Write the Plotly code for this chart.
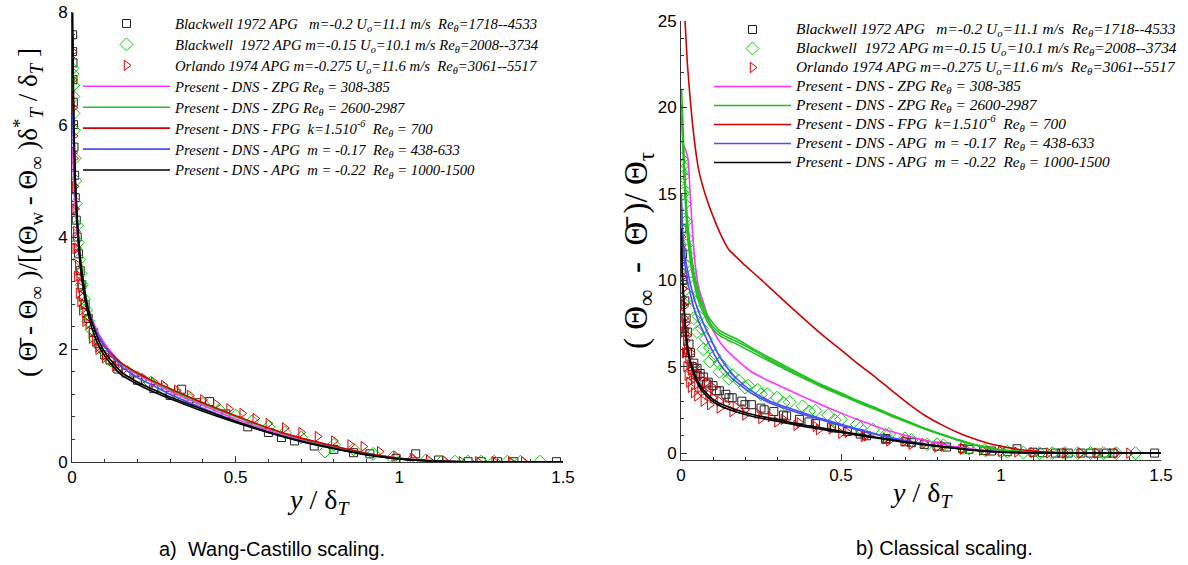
import plotly.graph_objects as go

W, H = 1188, 565

# ---------------- legend names ----------------
names = [
    "Blackwell 1972 APG\u00a0\u00a0\u00a0m=-0.2 U<sub>o</sub>=11.1 m/s\u00a0\u00a0Re<sub>θ</sub>=1718--4533",
    "Blackwell\u00a0\u00a01972 APG m=-0.15 U<sub>o</sub>=10.1 m/s Re<sub>θ</sub>=2008--3734",
    "Orlando 1974 APG m=-0.275 U<sub>o</sub>=11.6 m/s\u00a0\u00a0Re<sub>θ</sub>=3061--5517",
    "Present - DNS - ZPG Re<sub>θ</sub> = 308-385",
    "Present - DNS - ZPG Re<sub>θ</sub> = 2600-2987",
    "Present - DNS - FPG\u00a0\u00a0k=1.510<sup>-6</sup>\u00a0\u00a0Re<sub>θ</sub> = 700",
    "Present - DNS - APG\u00a0\u00a0m = -0.17\u00a0\u00a0Re<sub>θ</sub> = 438-633",
    "Present - DNS - APG\u00a0\u00a0m = -0.22\u00a0\u00a0Re<sub>θ</sub> = 1000-1500",
]

# ================= panel a) Wang-Castillo scaling =================
a_sq_x = [0.002, 0.002, 0.003, 0.003, 0.004, 0.005, 0.006, 0.008, 0.01, 0.013, 0.016, 0.02, 0.025, 0.03, 0.04,
          0.05, 0.065, 0.08, 0.1, 0.116, 0.14, 0.165, 0.2, 0.25, 0.3, 0.335, 0.38, 0.42, 0.47, 0.537, 0.6, 0.64,
          0.68, 0.74, 0.8, 0.86, 0.91, 0.99, 1.05, 1.12, 1.21, 1.25, 1.3, 1.35, 1.48]
a_sq_y = [7.6, 7.3, 7.1, 6.8, 6.4, 6.0, 5.6, 5.1, 4.7, 4.3, 4.0, 3.7, 3.4, 3.15, 2.8,
          2.55, 2.3, 2.1, 1.9, 1.81, 1.65, 1.58, 1.45, 1.3, 1.18, 1.29, 1.05, 1.07, 0.85, 0.62, 0.52, 0.43,
          0.37, 0.28, 0.22, 0.16, 0.14, 0.06, 0.14, 0.03, 0.0, 0.0, 0.0, 0.0, 0.0]

a_di_x = [0.001, 0.002, 0.003, 0.004, 0.005, 0.006, 0.008, 0.01, 0.012, 0.015, 0.018, 0.022, 0.026, 0.03, 0.036,
          0.043, 0.05, 0.06, 0.07, 0.085, 0.1, 0.12, 0.14, 0.17, 0.2, 0.24, 0.28, 0.32, 0.36, 0.4, 0.45, 0.5,
          0.55, 0.6, 0.65, 0.7, 0.773, 0.8, 0.86, 0.92, 0.98, 1.04, 1.08, 1.13, 1.17, 1.21, 1.25, 1.29, 1.33,
          1.37, 1.43]
a_di_y = [7.0, 6.9, 6.7, 6.5, 6.2, 5.9, 5.4, 5.0, 4.6, 4.2, 3.9, 3.6, 3.35, 3.15, 2.9,
          2.7, 2.5, 2.35, 2.2, 2.05, 1.95, 1.8, 1.7, 1.6, 1.5, 1.4, 1.3, 1.2, 1.1, 1.03, 0.92, 0.82,
          0.72, 0.62, 0.52, 0.43, 0.18, 0.3, 0.22, 0.14, 0.07, 0.03, 0.02, 0.0, 0.0, 0.0, 0.0, 0.0, 0.0,
          0.0, 0.0]

a_tr_x = [0.002, 0.003, 0.004, 0.005, 0.006, 0.008, 0.01, 0.012, 0.015, 0.018, 0.022, 0.026, 0.03, 0.035, 0.04,
          0.05, 0.06, 0.07, 0.08, 0.1, 0.12, 0.14, 0.16, 0.19, 0.22, 0.25, 0.28, 0.32, 0.36, 0.4, 0.44, 0.48,
          0.52, 0.56, 0.6, 0.65, 0.7, 0.75, 0.8, 0.85, 0.89, 0.94, 0.99, 1.04, 1.09, 1.14, 1.19, 1.24, 1.29,
          1.34, 1.38,
          0.003, 0.006, 0.01, 0.015, 0.02, 0.025, 0.03, 0.04, 0.06, 0.08, 0.1, 0.13]
a_tr_y = [7.3, 6.8, 6.3, 5.8, 5.4, 4.9, 4.5, 4.1, 3.8, 3.5, 3.3, 3.1, 2.95, 2.8, 2.65,
          2.45, 2.3, 2.15, 2.05, 1.9, 1.8, 1.72, 1.65, 1.55, 1.48, 1.42, 1.36, 1.27, 1.18, 1.1, 1.02, 0.94,
          0.86, 0.77, 0.68, 0.6, 0.52, 0.45, 0.37, 0.3, 0.27, 0.18, 0.1, 0.06, 0.03, 0.01, 0.0, 0.0, 0.0,
          0.0, 0.0,
          5.5, 4.5, 3.8, 3.3, 3.0, 2.85, 2.7, 2.5, 2.2, 2.0, 1.85, 1.7]

a_line_x = [0.002, 0.005, 0.01, 0.02, 0.03, 0.05, 0.075, 0.1, 0.15, 0.2, 0.25, 0.3, 0.4, 0.5, 0.6, 0.7, 0.8,
            0.9, 1.0, 1.1, 1.2, 1.5]
a_zpg_low = [5.6, 5.0, 4.5, 3.8, 3.3, 2.75, 2.35, 2.1, 1.75, 1.55, 1.4, 1.25, 1.0, 0.76, 0.56, 0.39, 0.26,
             0.14, 0.06, 0.015, 0.0, 0.0]
a_zpg_high = [7.0, 6.0, 5.0, 4.0, 3.4, 2.75, 2.3, 2.05, 1.75, 1.57, 1.42, 1.28, 1.03, 0.8, 0.59, 0.41, 0.27,
              0.15, 0.06, 0.015, 0.0, 0.0]
a_fpg = [6.6, 5.7, 4.8, 3.9, 3.3, 2.7, 2.3, 2.05, 1.76, 1.58, 1.43, 1.3, 1.05, 0.82, 0.6, 0.42, 0.28,
         0.15, 0.06, 0.015, 0.0, 0.0]
a_apg17 = [6.2, 5.5, 4.8, 3.9, 3.3, 2.7, 2.3, 2.05, 1.7, 1.5, 1.35, 1.2, 0.95, 0.72, 0.52, 0.36, 0.24,
           0.13, 0.05, 0.01, 0.0, 0.0]
a_apg22 = [8.0, 6.3, 5.1, 4.0, 3.4, 2.7, 2.25, 1.95, 1.6, 1.42, 1.28, 1.15, 0.93, 0.72, 0.53, 0.37, 0.24,
           0.13, 0.05, 0.01, 0.0, 0.0]
a_apg22b = [7.6, 6.0, 4.9, 3.85, 3.25, 2.6, 2.15, 1.88, 1.55, 1.38, 1.24, 1.12, 0.9, 0.7, 0.52, 0.36, 0.23,
            0.12, 0.05, 0.01, 0.0, 0.0]

# ================= panel b) Classical scaling =================
b_sq_x = [0.003, 0.005, 0.008, 0.012, 0.016, 0.02, 0.025, 0.03, 0.04, 0.05, 0.06, 0.07, 0.085, 0.1, 0.12, 0.14,
          0.16, 0.19, 0.22, 0.25, 0.29, 0.33, 0.37, 0.42, 0.47, 0.52, 0.58, 0.64, 0.7, 0.76, 0.83, 0.9, 0.97,
          1.05, 1.1, 1.17, 1.21, 1.25, 1.3, 1.35, 1.48,
          0.004, 0.01, 0.02, 0.035, 0.05, 0.08, 0.11, 0.15, 0.2, 0.26, 0.32, 0.4, 0.48, 0.56, 0.64, 0.72,
          0.8, 0.88, 0.95, 1.02, 1.13, 1.19, 1.28, 1.33]
b_sq_y = [13.0, 11.5, 10.0, 8.8, 7.8, 7.0, 6.3, 5.8, 5.2, 4.9, 4.6, 4.4, 4.1, 3.9, 3.6, 3.4,
          3.2, 3.0, 2.8, 2.6, 2.4, 2.15, 1.95, 1.7, 1.5, 1.25, 1.0, 0.85, 0.65, 0.5, 0.35, 0.22, 0.12,
          0.25, 0.05, 0.0, 0.0, 0.0, 0.0, 0.0, 0.0,
          10.0, 7.0, 5.8, 5.0, 4.5, 4.0, 3.6, 3.2, 2.8, 2.5, 2.2, 1.8, 1.45, 1.1, 0.8, 0.6,
          0.4, 0.25, 0.15, 0.08, 0.02, 0.0, 0.0, 0.0]

b_di_x = [0.002, 0.004, 0.006, 0.009, 0.012, 0.016, 0.02, 0.025, 0.03, 0.037, 0.045, 0.055, 0.065, 0.078, 0.09,
          0.105, 0.12, 0.14, 0.16, 0.18, 0.21, 0.24, 0.27, 0.3, 0.34, 0.38, 0.42, 0.46, 0.5, 0.55, 0.6, 0.65,
          0.7, 0.77, 0.82, 0.88, 0.95, 1.02, 1.07, 1.12, 1.16, 1.2, 1.24, 1.28, 1.32, 1.36, 1.42,
          0.003, 0.006, 0.01, 0.015, 0.02, 0.03, 0.04, 0.05, 0.07, 0.09, 0.12, 0.15, 0.2, 0.25, 0.32, 0.4,
          0.48, 0.56, 0.64, 0.72, 0.8, 0.9, 1.0]
b_di_y = [17.0, 16.6, 16.0, 15.2, 14.4, 13.4, 12.4, 11.4, 10.5, 9.6, 8.7, 7.9, 7.2, 6.6, 6.1,
          5.6, 5.2, 4.8, 4.5, 4.2, 3.9, 3.65, 3.4, 3.2, 2.95, 2.7, 2.45, 2.2, 1.95, 1.65, 1.35, 1.1,
          0.85, 0.5, 0.45, 0.3, 0.18, 0.08, 0.03, 0.0, 0.0, 0.0, 0.0, 0.0, 0.0, 0.0, 0.0,
          16.2, 15.0, 13.5, 12.0, 10.8, 9.0, 7.8, 7.0, 6.0, 5.3, 4.7, 4.3, 3.8, 3.4, 2.9, 2.4,
          1.9, 1.45, 1.05, 0.75, 0.5, 0.25, 0.1]

b_tr_x = [0.002, 0.003, 0.004, 0.005, 0.006, 0.008, 0.01, 0.012, 0.015, 0.018, 0.022, 0.026, 0.03, 0.035, 0.04,
          0.05, 0.06, 0.07, 0.085, 0.1, 0.12, 0.14, 0.17, 0.2, 0.24, 0.28, 0.32, 0.37, 0.42, 0.47, 0.52, 0.58,
          0.64, 0.7, 0.76, 0.82, 0.88, 0.94, 1.0, 1.05, 1.1, 1.15, 1.2, 1.25, 1.3, 1.36, 1.4,
          0.004, 0.008, 0.012, 0.016, 0.02, 0.025, 0.03, 0.04, 0.05, 0.07, 0.09, 0.12, 0.16, 0.2, 0.25, 0.3,
          0.36, 0.43, 0.5, 0.57, 0.65, 0.72, 0.8, 0.88, 0.96,
          0.002, 0.004, 0.006, 0.01, 0.015, 0.02, 0.03, 0.045, 0.06, 0.08, 0.1]
b_tr_y = [12.5, 11.8, 11.0, 10.2, 9.5, 8.6, 7.8, 7.2, 6.5, 6.0, 5.5, 5.1, 4.8, 4.5, 4.3,
          4.0, 3.8, 3.6, 3.4, 3.2, 3.0, 2.85, 2.7, 2.5, 2.3, 2.1, 1.95, 1.75, 1.55, 1.4, 1.2, 1.0,
          0.85, 0.7, 0.55, 0.4, 0.28, 0.17, 0.1, 0.06, 0.03, 0.01, 0.0, 0.0, 0.0, 0.0, 0.0,
          9.0, 7.0, 5.8, 5.0, 4.5, 4.1, 3.8, 3.5, 3.3, 3.0, 2.8, 2.6, 2.4, 2.2, 2.0, 1.8,
          1.6, 1.35, 1.15, 0.95, 0.7, 0.5, 0.35, 0.22, 0.12,
          12.0, 10.5, 9.5, 8.5, 7.5, 6.8, 5.8, 5.0, 4.5, 4.1, 3.8]

b_grn_x = [0.002, 0.005, 0.01, 0.015, 0.02, 0.03, 0.04, 0.05, 0.06, 0.075, 0.085, 0.1, 0.12, 0.15, 0.174,
           0.22, 0.278, 0.33, 0.38, 0.44, 0.5, 0.55, 0.61, 0.66, 0.71, 0.76, 0.82, 0.87, 0.92, 1.0, 1.1, 1.2, 1.5]
b_grn_1 = [21.0, 19.5, 17.0, 15.0, 13.5, 11.8, 10.5, 9.7, 9.0, 8.3, 7.9, 7.5, 7.1, 6.8, 6.6,
           6.1, 5.5, 5.0, 4.5, 3.95, 3.47, 3.05, 2.6, 2.2, 1.83, 1.45, 1.06, 0.75, 0.48, 0.19, 0.05, 0.01, 0.0]
b_grn_2 = [19.5, 18.0, 15.8, 14.0, 12.6, 11.0, 9.9, 9.1, 8.5, 7.9, 7.5, 7.15, 6.8, 6.5, 6.3,
           5.85, 5.3, 4.8, 4.35, 3.82, 3.35, 2.95, 2.5, 2.12, 1.76, 1.4, 1.02, 0.72, 0.46, 0.18, 0.04, 0.01, 0.0]
b_grn_3 = [20.2, 18.7, 16.4, 14.5, 13.0, 11.4, 10.2, 9.4, 8.75, 8.1, 7.7, 7.3, 6.95, 6.65, 6.45,
           6.0, 5.4, 4.9, 4.42, 3.88, 3.41, 3.0, 2.55, 2.16, 1.8, 1.42, 1.04, 0.74, 0.47, 0.18, 0.05, 0.01, 0.0]

b_mag_x = [0.003, 0.008, 0.015, 0.022, 0.03, 0.038, 0.045, 0.056, 0.07, 0.085, 0.1, 0.13, 0.174, 0.22, 0.278,
           0.33, 0.38, 0.44, 0.5, 0.55, 0.61, 0.66, 0.714, 0.76, 0.818, 0.87, 0.92, 1.0, 1.1, 1.2, 1.5]
b_mag_y = [18.0, 17.8, 17.5, 17.0, 14.5, 12.3, 10.8, 9.5, 8.7, 7.8, 7.1, 6.2, 5.4, 4.7, 4.14,
           3.7, 3.27, 2.78, 2.31, 1.95, 1.54, 1.23, 0.96, 0.74, 0.5, 0.33, 0.2, 0.07, 0.015, 0.0, 0.0]

b_fpg_x = [0.005, 0.0125, 0.02, 0.031, 0.045, 0.056, 0.075, 0.1, 0.125, 0.148, 0.175, 0.2, 0.24, 0.278, 0.34,
           0.4, 0.45, 0.5, 0.55, 0.61, 0.66, 0.714, 0.76, 0.818, 0.87, 0.92, 0.96, 1.005, 1.05, 1.11, 1.2, 1.3,
           1.5]
b_fpg_y = [27.0, 25.0, 22.5, 20.0, 17.6, 16.3, 15.0, 13.7, 12.6, 11.8, 11.3, 10.85, 10.2, 9.55, 8.5,
           7.5, 6.7, 5.97, 5.2, 4.35, 3.6, 2.8, 2.2, 1.6, 1.15, 0.8, 0.57, 0.38, 0.22, 0.1, 0.02, 0.0,
           0.0]

b_blu_x = [0.001, 0.003, 0.006, 0.012, 0.02, 0.028, 0.04, 0.055, 0.07, 0.09, 0.12, 0.15, 0.174, 0.22, 0.278,
           0.33, 0.38, 0.44, 0.5, 0.55, 0.61, 0.66, 0.714, 0.76, 0.818, 0.87, 0.92, 1.0, 1.1, 1.2, 1.5]
b_blu_1 = [15.0, 13.8, 12.6, 11.4, 10.6, 9.9, 9.0, 8.2, 7.5, 6.7, 5.6, 4.8, 4.3, 3.6, 3.0,
           2.65, 2.33, 1.98, 1.66, 1.4, 1.1, 0.88, 0.68, 0.53, 0.38, 0.26, 0.16, 0.06, 0.015, 0.0, 0.0]
b_blu_2 = [14.5, 13.2, 12.0, 10.9, 10.0, 9.3, 8.4, 7.6, 7.0, 6.2, 5.2, 4.5, 4.1, 3.45, 2.9,
           2.55, 2.25, 1.92, 1.6, 1.35, 1.07, 0.85, 0.66, 0.51, 0.36, 0.25, 0.15, 0.05, 0.01, 0.0, 0.0]

b_blk_x = [0.001, 0.003, 0.005, 0.008, 0.012, 0.02, 0.03, 0.044, 0.06, 0.08, 0.1, 0.12, 0.15, 0.2, 0.25, 0.3,
           0.38, 0.45, 0.5, 0.55, 0.61, 0.7, 0.8, 0.9, 1.0, 1.1, 1.2, 1.5]
b_blk_1 = [13.0, 11.2, 10.2, 9.2, 7.8, 6.3, 5.3, 4.5, 3.9, 3.45, 3.1, 2.88, 2.65, 2.35, 2.12, 1.95,
           1.64, 1.42, 1.26, 1.1, 0.92, 0.66, 0.42, 0.2, 0.07, 0.02, 0.0, 0.0]
b_blk_2 = [12.5, 10.8, 9.8, 8.8, 7.5, 6.0, 5.1, 4.35, 3.75, 3.3, 2.97, 2.75, 2.52, 2.23, 2.01, 1.85,
           1.55, 1.34, 1.19, 1.04, 0.87, 0.62, 0.39, 0.18, 0.06, 0.015, 0.0, 0.0]

# ---------------- styles ----------------
C_SQ, C_DI, C_TR = "#202020", "#00d000", "#e00000"
C_MAG, C_GRN, C_RED, C_BLU, C_BLK = "#ff33ff", "#22c022", "#d00000", "#4b4bff", "#000000"


def joined(x_list, *ys):
    xs, yy = [], []
    for i, y in enumerate(ys):
        if i:
            xs.append(None)
            yy.append(None)
        xs += list(x_list)
        yy += list(y)
    return xs, yy


fig = go.Figure()


def add_panel(xa, ya, leg, fsize, sq, di, tr, lines):
    def nm(k):
        return f'<span style="font-size:{fsize}px">{names[k]}</span>'
    fig.add_trace(go.Scatter(x=sq[0], y=sq[1], mode="markers", name=nm(0), legend=leg,
                             xaxis=xa, yaxis=ya,
                             marker=dict(symbol="square-open", size=8, color=C_SQ, line=dict(width=1))))
    fig.add_trace(go.Scatter(x=di[0], y=di[1], mode="markers", name=nm(1), legend=leg,
                             xaxis=xa, yaxis=ya,
                             marker=dict(symbol="diamond-open", size=10, color=C_DI, line=dict(width=1))))
    fig.add_trace(go.Scatter(x=tr[0], y=tr[1], mode="markers", name=nm(2), legend=leg,
                             xaxis=xa, yaxis=ya,
                             marker=dict(symbol="triangle-right-open", size=9, color=C_TR, line=dict(width=1))))
    for k, (lx, ly, col) in enumerate(lines):
        fig.add_trace(go.Scatter(x=lx, y=ly, mode="lines", name=nm(3 + k), legend=leg,
                                 xaxis=xa, yaxis=ya,
                                 line=dict(color=col, width=1.6, shape="spline", smoothing=0.6)))


add_panel("x", "y", "legend", 14.7,
          (a_sq_x, a_sq_y), (a_di_x, a_di_y), (a_tr_x, a_tr_y),
          [(a_line_x, a_zpg_low, C_MAG), (a_line_x, a_zpg_high, C_GRN), (a_line_x, a_fpg, C_RED),
           (a_line_x, a_apg17, C_BLU), (*joined(a_line_x, a_apg22, a_apg22b), C_BLK)])

add_panel("x2", "y2", "legend2", 15.4,
          (b_sq_x, b_sq_y), (b_di_x, b_di_y), (b_tr_x, b_tr_y),
          [(b_mag_x, b_mag_y, C_MAG), (*joined(b_grn_x, b_grn_1, b_grn_2, b_grn_3), C_GRN),
           (b_fpg_x, b_fpg_y, C_RED), (*joined(b_blu_x, b_blu_1, b_blu_2), C_BLU),
           (*joined(b_blk_x, b_blk_1, b_blk_2), C_BLK)])


def px(v):
    return v / W


def py(v):
    return 1 - v / H


tickfont = dict(family="Liberation Sans, Arial, sans-serif", size=17, color="black")
common_x = dict(range=[0, 1.5], tickvals=[0, 0.5, 1, 1.5], ticktext=["0", "0.5", "1", "1.5"],
                ticks="inside", ticklen=6, tickcolor="#333", showline=True, linecolor="#333", linewidth=1,
                showgrid=False, zeroline=False, tickfont=tickfont, automargin=False,
                minor=dict(dtick=0.1, ticks="inside", ticklen=3, tickcolor="#333", showgrid=False))
common_y = dict(ticks="inside", ticklen=6, tickcolor="#333", showline=True, linecolor="#333", linewidth=1,
                showgrid=False, zeroline=False, tickfont=tickfont, automargin=False)

serif = "Liberation Serif, Times New Roman, serif"

fig.update_layout(
    width=W, height=H, margin=dict(l=0, r=0, t=0, b=0, autoexpand=False),
    paper_bgcolor="white", plot_bgcolor="white",
    xaxis=dict(domain=[px(72), px(563)], anchor="y", **common_x),
    yaxis=dict(domain=[py(461.7), py(12.3)], anchor="x", range=[0, 8], tickvals=[0, 2, 4, 6, 8],
               minor=dict(dtick=0.4, ticks="inside", ticklen=3, tickcolor="#333", showgrid=False), **common_y),
    xaxis2=dict(domain=[px(681), px(1161)], anchor="y2", **common_x),
    yaxis2=dict(domain=[py(460), py(20.7)], anchor="x2", range=[-0.4, 25], tickvals=[0, 5, 10, 15, 20, 25],
                minor=dict(dtick=1, ticks="inside", ticklen=3, tickcolor="#333", showgrid=False), **common_y),
    legend=dict(x=px(78), y=py(8), xanchor="left", yanchor="top", bgcolor="rgba(0,0,0,0)",
                itemwidth=87, tracegroupgap=0,
                font=dict(family=serif, size=13.8, style="italic", color="black")),
    legend2=dict(x=px(709), y=py(15), xanchor="left", yanchor="top", bgcolor="rgba(0,0,0,0)",
                 itemwidth=77, tracegroupgap=0,
                 font=dict(family=serif, size=11.4, style="italic", color="black")),
    showlegend=True,
)

ann = [
    dict(x=px(28), y=py(213),
         text="(\u00a0Θ\u0304\u00a0-\u00a0Θ<sub>∞</sub>\u00a0)/[(Θ<sub>w</sub>\u00a0-\u00a0Θ<sub>∞</sub>\u00a0)δ<sup>*</sup><sub><i>T</i></sub>\u00a0/\u00a0δ<sub><i>T</i></sub>\u00a0]",
         textangle=-90, font=dict(family=serif, size=27, color="black")),
    dict(x=px(638), y=py(251), text="(\u00a0Θ<sub>∞</sub>\u00a0\u00a0-\u00a0\u00a0Θ\u0304\u00a0)/\u00a0Θ<sub>τ</sub>",
         textangle=-90, font=dict(family=serif, size=33, color="black")),
    dict(x=px(318), y=py(501), text="<i>y</i> / δ<sub><i>T</i></sub>", font=dict(family=serif, size=28, color="black")),
    dict(x=px(921), y=py(494), text="<i>y</i> / δ<sub><i>T</i></sub>", font=dict(family=serif, size=28, color="black")),
    dict(x=px(272), y=py(549), text="a)\u00a0\u00a0Wang-Castillo scaling.",
         font=dict(family="Liberation Sans, Arial, sans-serif", size=20, color="black")),
    dict(x=px(944), y=py(548), text="b) Classical scaling.",
         font=dict(family="Liberation Sans, Arial, sans-serif", size=20, color="black")),
]
for a in ann:
    a.update(xref="paper", yref="paper", showarrow=False, xanchor="center", yanchor="middle")
fig.update_layout(annotations=ann)

fig.write_html("out.html", config={"displayModeBar": False},
               post_script="document.body.style.margin='0';document.body.style.overflow='hidden';")
